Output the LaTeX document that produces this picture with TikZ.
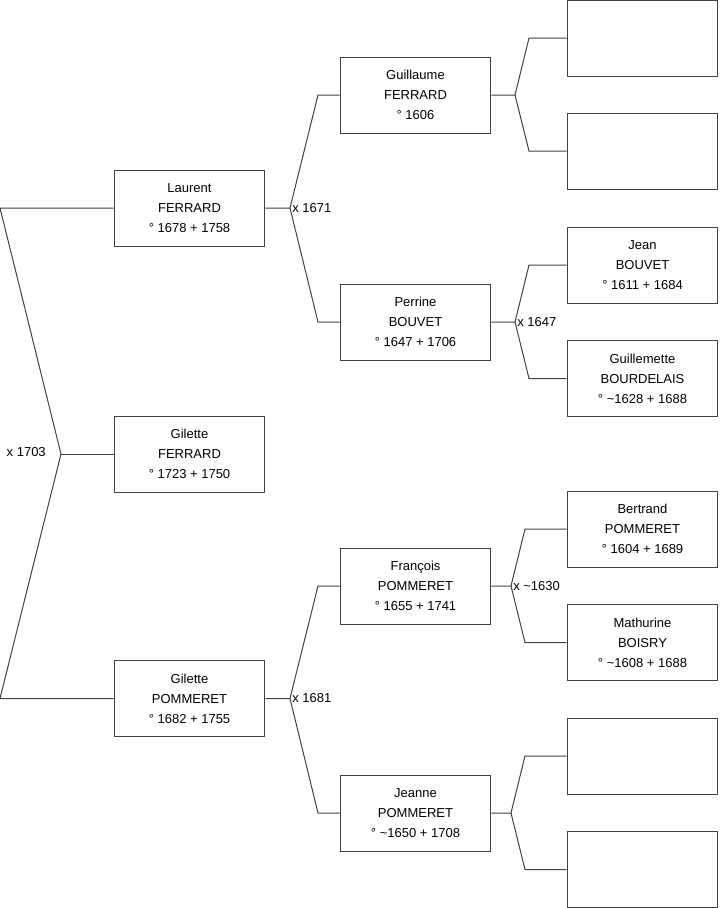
\documentclass[tikz,border=0pt]{standalone}
\usepackage{fontspec}
\setmainfont{Liberation Sans}
\usepackage{tikz}
\usetikzlibrary{positioning,calc}

\begin{document}
\begin{tikzpicture}[
    x=0.75pt, y=-0.75pt,
    personne/.style={rectangle, draw=black!75, line width=0.75pt, fill=white, minimum width=113pt, minimum height=57pt, align=center, inner sep=0pt, font=\fontsize{9.75}{15}\selectfont},
    lien/.style={draw=black!75, line width=0.75pt},
    mariage/.style={inner sep=1.5pt, font=\fontsize{9.75}{12}\selectfont},
]
\useasboundingbox (0,0) rectangle (719,908);
% GENERATION 1
\node[personne] (laurent) at (189.5,208) {Laurent\\FERRARD\\° 1678 + 1758};
\node[personne] (giletteF) at (189.5,454) {Gilette\\FERRARD\\° 1723 + 1750};
\node[personne] (giletteP) at (189.5,698.5) {Gilette\\POMMERET\\° 1682 + 1755};
% GENERATION 2
\node[personne] (guillaume) at (415.5,95) {Guillaume\\FERRARD\\° 1606};
\node[personne] (perrine) at (415.5,322) {Perrine\\BOUVET\\° 1647 + 1706};
\node[personne] (francois) at (415.5,586) {François\\POMMERET\\° 1655 + 1741};
\node[personne] (jeanne) at (415.5,813) {Jeanne\\POMMERET\\° \textasciitilde1650 + 1708};
% GENERATION 3
\node[personne] (vide1) at (642.5,38) {};
\node[personne] (vide2) at (642.5,151) {};
\node[personne] (jean) at (642.5,265) {Jean\\BOUVET\\° 1611 + 1684};
\node[personne] (guillemette) at (642.5,378.5) {Guillemette\\BOURDELAIS\\° \textasciitilde1628 + 1688};
\node[personne] (bertrand) at (642.5,529) {Bertrand\\POMMERET\\° 1604 + 1689};
\node[personne] (mathurine) at (642.5,642.5) {Mathurine\\BOISRY\\° \textasciitilde1608 + 1688};
\node[personne] (vide3) at (642.5,756) {};
\node[personne] (vide4) at (642.5,869.5) {};

% Parents de Gilette FERRARD
\coordinate (v0) at (61,454);
\coordinate (h0) at (0,208);
\coordinate (b0) at (0,698.5);
\draw[lien] (laurent.west) -- (h0) -- (v0) -- (b0) -- (giletteP.west);
\draw[lien] (v0) -- (giletteF.west);
\node[mariage, anchor=east] (m0) at (48,452) {x 1703};

% Parents de Laurent
\coordinate (v1) at (290,208);
\draw[lien] (laurent.east) -- (v1) -- (318,95) -- (guillaume.west);
\draw[lien] (v1) -- (318,322) -- (perrine.west);
\node[mariage, anchor=west] (m1) at (v1) {x 1671};

% Parents de Gilette POMMERET
\coordinate (v2) at (290,698.5);
\draw[lien] (giletteP.east) -- (v2) -- (318,586) -- (francois.west);
\draw[lien] (v2) -- (318,813) -- (jeanne.west);
\node[mariage, anchor=west] (m2) at (v2) {x 1681};

% Parents de Guillaume
\coordinate (v3) at (515,95);
\draw[lien] (guillaume.east) -- (v3) -- (529,38) -- (vide1.west);
\draw[lien] (v3) -- (529,151) -- (vide2.west);

% Parents de Perrine
\coordinate (v4) at (515,322);
\draw[lien] (perrine.east) -- (v4) -- (529,265) -- (jean.west);
\draw[lien] (v4) -- (529,378.5) -- (guillemette.west);
\node[mariage, anchor=west] (m4) at (v4) {x 1647};

% Parents de Francois
\coordinate (v5) at (511,586);
\draw[lien] (francois.east) -- (v5) -- (525,529) -- (bertrand.west);
\draw[lien] (v5) -- (525,642.5) -- (mathurine.west);
\node[mariage, anchor=west] (m5) at (v5) {x \textasciitilde1630};

% Parents de Jeanne
\coordinate (v6) at (511,813);
\draw[lien] (jeanne.east) -- (v6) -- (525,756) -- (vide3.west);
\draw[lien] (v6) -- (525,869.5) -- (vide4.west);
\end{tikzpicture}
\end{document}
